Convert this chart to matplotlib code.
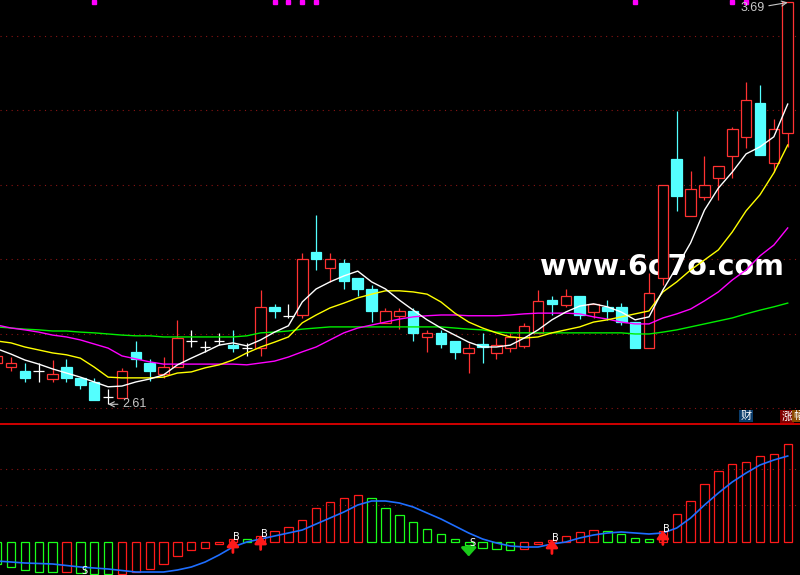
import numpy as np
import matplotlib.pyplot as plt
from matplotlib.patches import Rectangle

plt.rcParams['font.family'] = ['DejaVu Sans', 'Noto Sans CJK SC']

# day index, day -1 is cut by the left edge
days = np.arange(-1, 57)

opens = [2.721, 2.710, 2.699, 2.699, 2.678, 2.710, 2.681, 2.670, 2.630, 2.627,
         2.751, 2.721, 2.691, 2.710, 2.780, 2.764, 2.780, 2.769, 2.761, 2.761,
         2.871, 2.847, 2.850, 3.019, 2.976, 2.990, 2.949, 2.920, 2.828, 2.847,
         2.861, 2.791, 2.802, 2.780, 2.748, 2.772, 2.748, 2.761, 2.767, 2.802,
         2.890, 2.877, 2.901, 2.858, 2.871, 2.871, 2.831, 2.761, 2.949, 3.269,
         3.116, 3.167, 3.218, 3.277, 3.328, 3.420, 3.259, 3.339]
highs = [2.748, 2.737, 2.721, 2.721, 2.729, 2.732, 2.681, 2.681, 2.651, 2.708,
         2.780, 2.732, 2.737, 2.837, 2.810, 2.780, 2.802, 2.810, 2.775, 2.917,
         2.880, 2.880, 3.017, 3.119, 3.017, 3.001, 2.949, 2.931, 2.869, 2.869,
         2.869, 2.810, 2.810, 2.780, 2.775, 2.802, 2.788, 2.802, 2.828, 2.917,
         2.901, 2.920, 2.901, 2.880, 2.890, 2.882, 2.831, 2.963, 3.199, 3.398,
         3.237, 3.277, 3.251, 3.355, 3.476, 3.468, 3.377, 3.690]
lows = [2.713, 2.699, 2.670, 2.670, 2.670, 2.670, 2.651, 2.622, 2.610, 2.627,
        2.710, 2.673, 2.681, 2.710, 2.764, 2.751, 2.769, 2.751, 2.740, 2.740,
        2.842, 2.842, 2.842, 2.971, 2.939, 2.920, 2.901, 2.831, 2.828, 2.812,
        2.780, 2.751, 2.761, 2.732, 2.694, 2.721, 2.732, 2.751, 2.761, 2.802,
        2.850, 2.871, 2.839, 2.842, 2.837, 2.823, 2.761, 2.761, 2.931, 3.130,
        3.116, 3.159, 3.159, 3.218, 3.299, 3.280, 3.234, 3.302]
closes = [2.740, 2.721, 2.681, 2.699, 2.691, 2.681, 2.662, 2.622, 2.630, 2.699,
          2.732, 2.699, 2.710, 2.788, 2.780, 2.764, 2.780, 2.761, 2.761, 2.871,
          2.861, 2.847, 3.001, 3.001, 3.001, 2.941, 2.920, 2.861, 2.861, 2.861,
          2.802, 2.802, 2.772, 2.751, 2.761, 2.764, 2.769, 2.791, 2.820, 2.888,
          2.880, 2.901, 2.850, 2.880, 2.861, 2.831, 2.761, 2.909, 3.199, 3.170,
          3.189, 3.199, 3.251, 3.350, 3.428, 3.280, 3.350, 3.690]

ma5 = [2.759, 2.745, 2.729, 2.718, 2.705, 2.694, 2.683, 2.670, 2.657, 2.659,
       2.670, 2.678, 2.689, 2.716, 2.734, 2.751, 2.769, 2.775, 2.767, 2.783,
       2.804, 2.821, 2.885, 2.920, 2.939, 2.955, 2.968, 2.939, 2.920, 2.890,
       2.863, 2.837, 2.815, 2.796, 2.777, 2.764, 2.764, 2.769, 2.788, 2.810,
       2.837, 2.858, 2.874, 2.880, 2.872, 2.858, 2.837, 2.845, 2.917, 2.979,
       3.044, 3.132, 3.191, 3.234, 3.283, 3.302, 3.329, 3.417]
ma10 = [2.780, 2.775, 2.764, 2.756, 2.748, 2.743, 2.734, 2.710, 2.683, 2.681,
        2.681, 2.681, 2.683, 2.694, 2.697, 2.708, 2.716, 2.729, 2.748, 2.764,
        2.777, 2.791, 2.829, 2.850, 2.869, 2.882, 2.896, 2.906, 2.915, 2.915,
        2.912, 2.906, 2.885, 2.855, 2.831, 2.815, 2.802, 2.791, 2.788, 2.791,
        2.802, 2.810, 2.818, 2.831, 2.837, 2.845, 2.853, 2.861, 2.912, 2.939,
        2.971, 2.998, 3.025, 3.073, 3.130, 3.173, 3.232, 3.307]
ma20 = [2.823, 2.815, 2.810, 2.804, 2.796, 2.791, 2.783, 2.772, 2.761, 2.740,
        2.732, 2.724, 2.718, 2.718, 2.718, 2.718, 2.718, 2.718, 2.716, 2.721,
        2.726, 2.737, 2.751, 2.764, 2.783, 2.802, 2.815, 2.823, 2.831, 2.839,
        2.845, 2.848, 2.850, 2.850, 2.848, 2.848, 2.848, 2.850, 2.853, 2.855,
        2.855, 2.855, 2.853, 2.845, 2.839, 2.831, 2.826, 2.826, 2.842, 2.853,
        2.866, 2.888, 2.912, 2.944, 2.971, 3.009, 3.038, 3.084]
ma60 = [2.818, 2.815, 2.812, 2.810, 2.807, 2.807, 2.804, 2.802, 2.799, 2.796,
        2.794, 2.794, 2.791, 2.791, 2.791, 2.791, 2.791, 2.791, 2.794, 2.802,
        2.804, 2.807, 2.812, 2.815, 2.818, 2.818, 2.818, 2.818, 2.818, 2.818,
        2.818, 2.818, 2.818, 2.815, 2.812, 2.810, 2.804, 2.802, 2.802, 2.802,
        2.802, 2.802, 2.802, 2.802, 2.802, 2.802, 2.799, 2.799, 2.804, 2.810,
        2.818, 2.826, 2.834, 2.842, 2.853, 2.863, 2.872, 2.882]

# lower indicator (no scale shown)
osc = [-22, -25, -28, -30, -30.5, -30, -31, -32, -32.5, -32,
       -30, -27, -22, -14, -8, -6, -2, 3, 2.5, 6,
       11, 15, 22, 34, 40, 44, 47, 44, 34, 27,
       20, 13, 8, 3, -3, -6, -7, -8, -7, -2,
       2, 6, 10, 11.5, 11, 8, 3.5, 3, 11, 28,
       41, 58, 71, 78, 80, 86, 88, 98]
osc_signal = [-19.5, -20.5, -21.5, -22, -22.5, -24, -25.5, -26.5, -27.5, -29,
              -30.5, -30.5, -30.5, -28.5, -25.5, -20.5, -13.5, -5.5, -0.5, 2.5,
              5.5, 8.5, 11.5, 17.5, 23.5, 29.5, 36.5, 40.5, 40.5, 38.5,
              34.5, 28.5, 22.5, 15.5, 8.5, 2.5, -1.5, -4.5, -5.5, -5.5,
              -2.5, -0.5, 3.5, 6.5, 8.5, 9.5, 8.5, 7.5, 8.5, 13.5,
              23.5, 36.5, 48.5, 59.5, 68.5, 76.5, 81.5, 85.5]
buy_days = [16, 18, 39, 47]
sell_days = [5, 33]
mark_days = [6, 19, 20, 21, 22, 45, 52, 53]

red = '#ff3232'
cyan = '#54ffff'
grid_col = '#8b1414'

fig = plt.figure(figsize=(8, 5.75), dpi=100, facecolor='black')
ax = fig.add_axes([0, 151 / 575, 1, 424 / 575], facecolor='black')
ax2 = fig.add_axes([0, 0, 1, 151 / 575], facecolor='black', sharex=ax)
for a in (ax, ax2):
    a.set_xticks([])
    a.set_yticks([])
    for s in a.spines.values():
        s.set_visible(False)

ax.set_xlim(-0.793, 56.886)
ax.set_ylim(2.557, 3.6967)
ax2.set_ylim(-33.5, 117.5)

for p in [2.6, 2.8, 3.0, 3.2, 3.4, 3.6]:
    ax.axhline(p, color=grid_col, lw=0.8, ls=(0, (1, 4)), zorder=0)
for g in [36.5, 72.5]:
    ax2.axhline(g, color=grid_col, lw=0.8, ls=(0, (1, 4)), zorder=0)

# candles
w = 0.76
for d, o, h, l, c in zip(days, opens, highs, lows, closes):
    if c > o:
        ax.vlines(d, c, h, color=red, lw=0.9, zorder=2)
        ax.vlines(d, l, o, color=red, lw=0.9, zorder=2)
        ax.add_patch(Rectangle((d - w / 2, o), w, c - o, facecolor='black',
                               edgecolor=red, lw=0.9, zorder=2))
    elif c < o:
        ax.vlines(d, l, h, color=cyan, lw=0.9, zorder=2)
        ax.add_patch(Rectangle((d - w / 2, c), w, o - c, facecolor=cyan,
                               edgecolor=cyan, lw=0.9, zorder=2))
    else:
        ax.vlines(d, l, h, color='white', lw=0.9, zorder=2)
        ax.hlines(o, d - w / 2, d + w / 2, color='white', lw=0.9, zorder=2)

ax.plot(days, ma60, color='#00ee00', lw=1, zorder=3)
ax.plot(days, ma20, color='#ff00ff', lw=1, zorder=3)
ax.plot(days, ma10, color='#ffff00', lw=1, zorder=3)
ax.plot(days, ma5, color='white', lw=1, zorder=3)

ax.plot(mark_days, [0.996] * len(mark_days), transform=ax.get_xaxis_transform(),
        ls='none', marker='s', ms=2.2, color='#ff00ff', clip_on=False)

hi = int(np.argmax(highs))
lo = int(np.argmin(lows))
ax.annotate(f'{highs[hi]:.2f}', xy=(days[hi], highs[hi]), xytext=(-23, -6),
            textcoords='offset pixels', ha='right', va='center', color='#c8c8c8',
            fontsize=9, family='Liberation Sans',
            arrowprops=dict(arrowstyle='->', color='#c8c8c8', lw=0.8, shrinkA=1, shrinkB=0))
ax.annotate(f'{lows[lo]:.2f}', xy=(days[lo], lows[lo]), xytext=(14, 0),
            textcoords='offset pixels', ha='left', va='center', color='#c8c8c8',
            fontsize=9, family='Liberation Sans',
            arrowprops=dict(arrowstyle='->', color='#c8c8c8', lw=0.8, shrinkA=1, shrinkB=0))

ax.text(0.827, 0.370, 'www.6o7o.com', transform=ax.transAxes, ha='center', va='center',
        color='white', fontsize=20.5, fontweight='bold', zorder=0.5)

ax.text(746 / 800, 0.018, '财', transform=ax.transAxes, ha='center', va='center',
        color='white', fontsize=8, family='Noto Sans CJK SC',
        bbox=dict(facecolor='#0b3d6b', edgecolor='none', pad=0.8))
ax.text(787 / 800, 0.018, '涨', transform=ax.transAxes, ha='center', va='center',
        color='white', fontsize=8, family='Noto Sans CJK SC',
        bbox=dict(facecolor='#800000', edgecolor='none', pad=0.8))
ax.text(799 / 800, 0.018, '幅', transform=ax.transAxes, ha='center', va='center',
        color='white', fontsize=8, family='Noto Sans CJK SC',
        bbox=dict(facecolor='#8a4a00', edgecolor='none', pad=0.8))

# lower panel
ax2.axhline(117.5, color='#d00000', lw=1.4, clip_on=False, zorder=5)
osc = np.array(osc)
rising = np.diff(osc, prepend=np.nan) > 0
bw = 0.6
for d, v, up in zip(days, osc, rising):
    col = '#ff1a1a' if up else '#1aff1a'
    ax2.add_patch(Rectangle((d - bw / 2, 0), bw, v, facecolor='none',
                            edgecolor=col, lw=0.9, zorder=2))
ax2.plot(days, osc_signal, color='#1e6eff', lw=1.2, zorder=3)

for d in buy_days:
    v = osc[d + 1]
    ax2.annotate('', xy=(d, v), xytext=(d, v - 14),
                 arrowprops=dict(arrowstyle='-|>,head_length=0.45,head_width=0.35',
                                 color='#ff1a1a', lw=2, shrinkA=0, shrinkB=0))
    ax2.text(d + 0.27, v + 1.5, 'B', color='white', fontsize=7, ha='center', va='center',
             zorder=4)
for d in sell_days:
    v = osc[d + 1]
    ax2.annotate('', xy=(d, v - 12), xytext=(d, v - 2),
                 arrowprops=dict(arrowstyle='-|>,head_length=0.5,head_width=0.45',
                                 color='#1acc1a', lw=2, shrinkA=0, shrinkB=0))
    ax2.text(d + 0.27, v + 1.5, 'S', color='white', fontsize=7, ha='center', va='center',
             zorder=4)

fig.savefig('out.png', dpi=100, facecolor='black')
